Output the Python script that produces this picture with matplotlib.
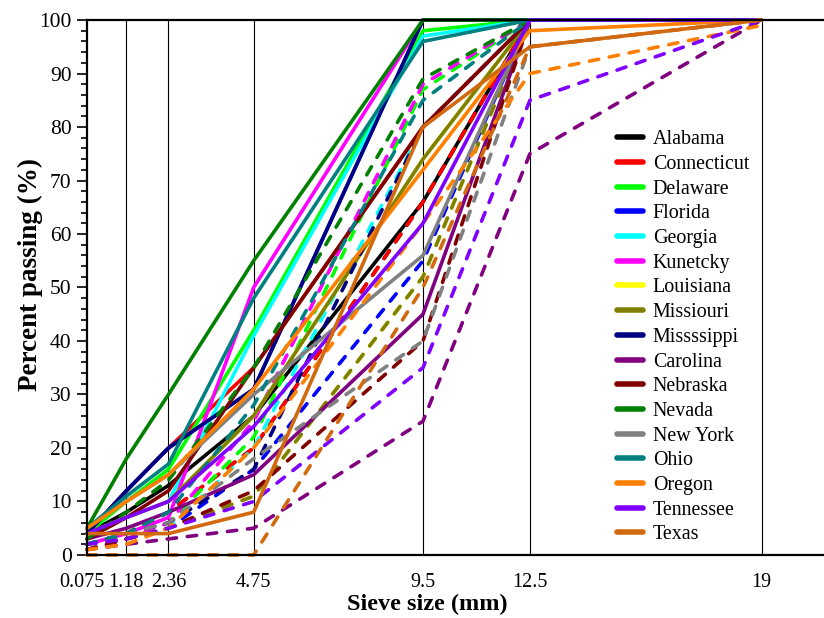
import matplotlib
matplotlib.use("Agg")
import matplotlib.pyplot as plt
import matplotlib.transforms as mtransforms
from matplotlib.ticker import MultipleLocator

plt.rcParams["font.family"] = "Liberation Serif"

# Sieve sizes (mm) and gradation limits (% passing) per state
sieve_sizes = [0.075, 1.18, 2.36, 4.75, 9.5, 12.5, 19]
states = ["Alabama", "Connecticut", "Delaware", "Florida", "Georgia", "Kunetcky",
          "Louisiana", "Missiouri", "Missssippi", "Carolina", "Nebraska", "Nevada",
          "New York", "Ohio", "Oregon", "Tennessee", "Texas"]
colors = ["#000000", "#ff0000", "#00ff00", "#0000ff", "#00ffff", "#ff00ff",
          "#ffff00", "#808000", "#000080", "#800080", "#800000", "#008000",
          "#808080", "#008080", "#ff8000", "#8000ff", "#d2690f"]

# upper limits (solid) and lower limits (dashed)
upper_limits = [
    [4, 8, 13, 26, 66, 100, 100],
    [4, 12, 20, 35, 80, 100, 100],
    [4, 10, 16, 42, 98, 100, 100],
    [4, 12, 20, 31, 100, 100, 100],
    [4, 7, 10, 41, 97, 100, 100],
    [2, 4, 7, 50, 100, 100, 100],
    [4, 7, 10, 26, 74, 100, 100],
    [4, 7, 10, 26, 74, 100, 100],
    [4, 12, 20, 31, 100, 100, 100],
    [3, 5, 8, 15, 45, 100, 100],
    [3, 7, 12, 35, 80, 100, 100],
    [5, 18, 30, 55, 100, 100, 100],
    [5, 10, 15, 30, 56, 100, 100],
    [5, 11, 17, 48, 96, 100, 100],
    [5, 10, 15, 31, 72, 98, 100],
    [4, 7, 10, 24, 62, 100, 100],
    [4, 4, 4, 8, 80, 95, 100],
]
lower_limits = [
    [2, 4, 8, 20, 66, 100, 100],
    [2, 4, 8, 20, 66, 100, 100],
    [2, 4, 6, 22, 87, 100, 100],
    [1, 3, 5, 16, 55, 100, 100],
    [2, 3, 5, 20, 80, 100, 100],
    [1, 3, 6, 25, 88, 100, 100],
    [2, 3, 5, 11, 52, 100, 100],
    [2, 3, 5, 11, 52, 100, 100],
    [2, 4, 6, 16, 80, 100, 100],
    [1, 2, 3, 5, 25, 75, 100],
    [1, 3, 5, 12, 40, 100, 100],
    [3, 8, 14, 35, 89, 100, 100],
    [2, 4, 6, 18, 40, 95, 100],
    [2, 4, 8, 28, 85, 100, 100],
    [1, 2, 5, 20, 62, 90, 99],
    [2, 3, 5, 10, 35, 85, 100],
    [0, 0, 0, 0, 50, 95, 100],
]
tick_labels = ["0.075", "1.18", "2.36", "4.75", "9.5", "12.5", "19"]

fig = plt.figure(figsize=(8.24, 6.18), dpi=100)
ax = fig.add_axes([0.1056, 0.102, 0.8944, 0.8656])

for name, col, up, low in zip(states, colors, upper_limits, lower_limits):
    ax.plot(sieve_sizes, up, color=col, lw=2.6, label=name,
            solid_capstyle="round", clip_on=False)
    ax.plot(sieve_sizes, low, color=col, lw=2.6, ls=(0, (2.6, 3.0)),
            dash_capstyle="round", clip_on=False)

# thin vertical lines at each sieve
for s in sieve_sizes[1:]:
    ax.axvline(s, color="black", lw=0.8, zorder=0)

ax.set_xlim(0.075, 20.75)
ax.set_ylim(0, 100)
ax.set_xticks(sieve_sizes)
ax.set_xticklabels(tick_labels)
ax.yaxis.set_major_locator(MultipleLocator(10))
ax.yaxis.set_minor_locator(MultipleLocator(2))
ax.tick_params(axis="x", length=0, labelsize=14.5, pad=13)
ax.tick_params(axis="y", which="major", length=7, width=1.2, labelsize=15.5, pad=4)
ax.tick_params(axis="y", which="minor", length=4, width=1.2)
for sp in ["left", "bottom", "top"]:
    ax.spines[sp].set_linewidth(1.6)
ax.spines["right"].set_visible(False)

# nudge the first sieve label left so it clears its neighbour
first = ax.get_xticklabels()[0]
first.set_transform(first.get_transform() +
                    mtransforms.ScaledTranslation(-4 / 72, 0, fig.dpi_scale_trans))

ax.set_xlabel("Sieve size (mm)", fontsize=17.5, fontweight="bold", va="center")
ax.set_ylabel("Percent passing (%)", fontsize=19.5, fontweight="bold", va="center")
ax.xaxis.set_label_coords(0.462, -0.093)
ax.yaxis.set_label_coords(-0.077, 0.525)

leg = ax.legend(loc="upper left", bbox_to_anchor=(0.719, 0.794), frameon=False,
                fontsize=14.4, handlelength=1.3, handletextpad=0.5,
                labelspacing=0.285, borderaxespad=0, borderpad=0)
for h in leg.get_lines():
    h.set_linewidth(4)

fig.savefig("out.png", dpi=100)
